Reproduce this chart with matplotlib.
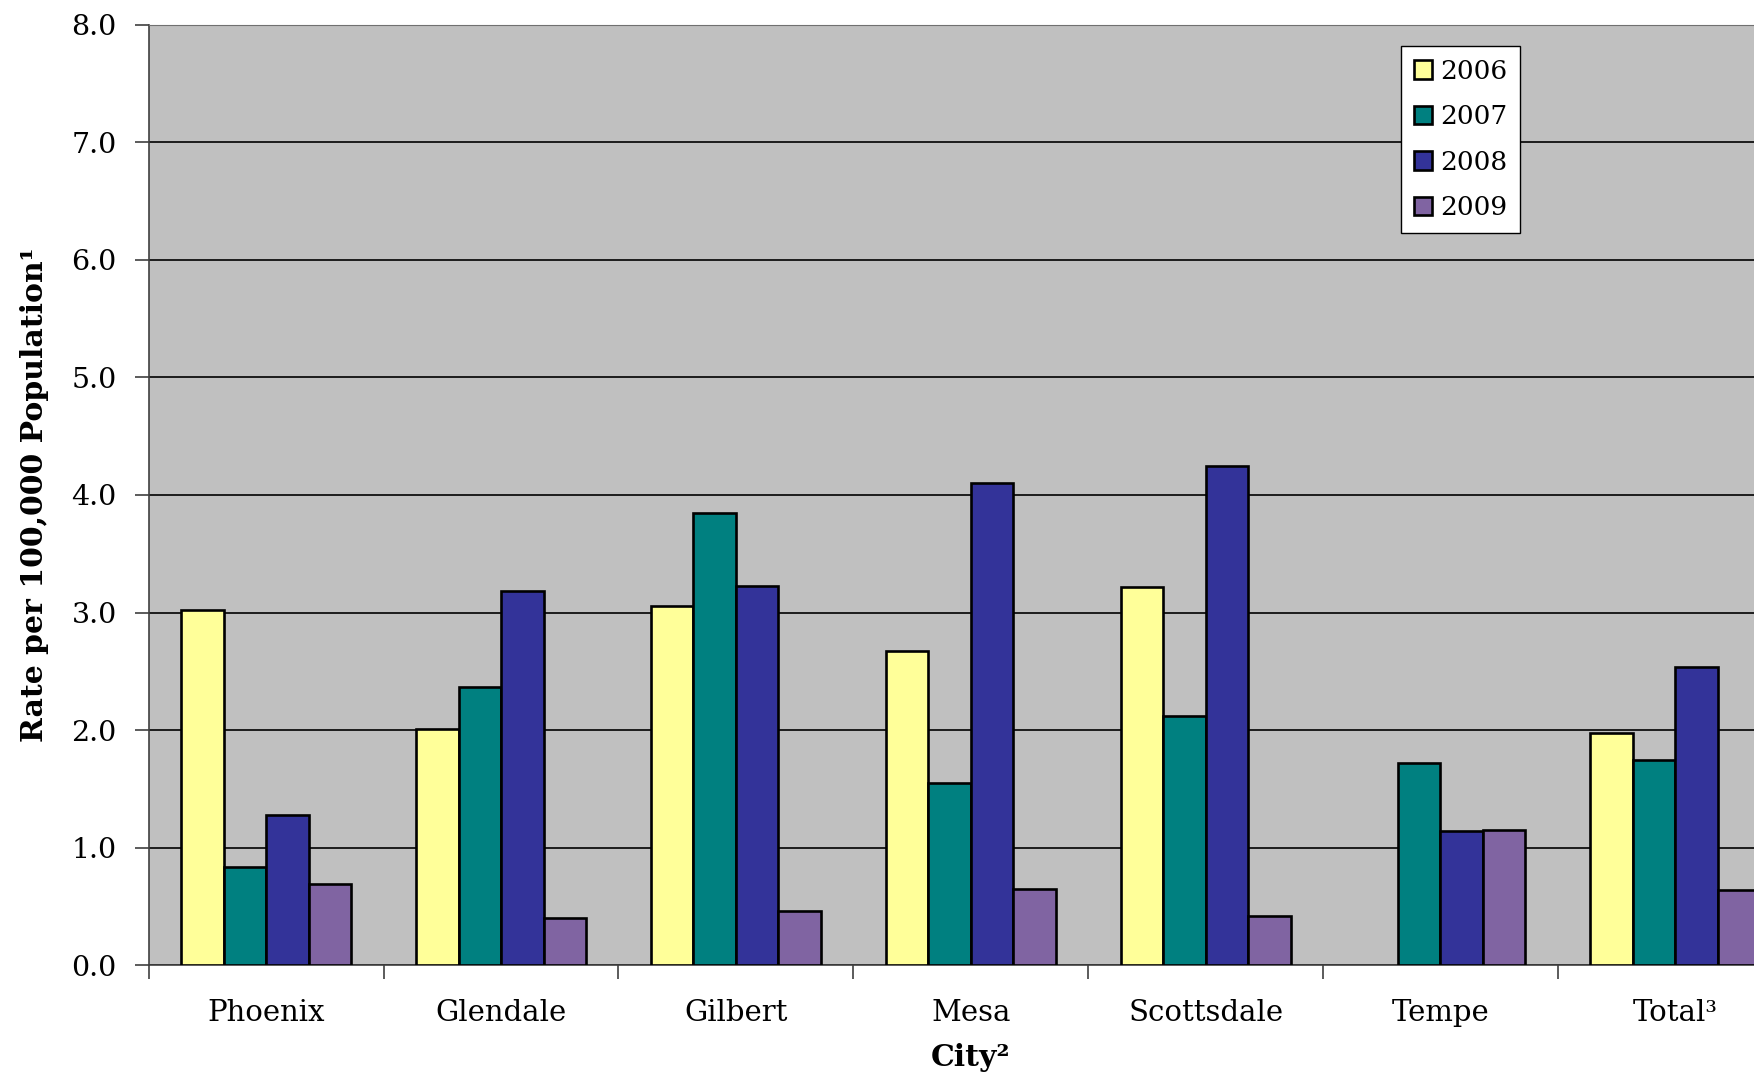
import numpy as np
import matplotlib.pyplot as plt

cities = ['Phoenix', 'Glendale', 'Gilbert', 'Mesa', 'Scottsdale', 'Tempe', 'Total³']
years = ['2006', '2007', '2008', '2009']
rate_2006 = [3.02, 2.01, 3.06, 2.67, 3.22, 0.0, 1.98]
rate_2007 = [0.84, 2.37, 3.85, 1.55, 2.12, 1.72, 1.75]
rate_2008 = [1.28, 3.18, 3.23, 4.10, 4.25, 1.14, 2.54]
rate_2009 = [0.69, 0.40, 0.46, 0.65, 0.42, 1.15, 0.64]
colors = ['#FFFF99', '#008080', '#333399', '#8064A2']

plt.rcParams['font.family'] = ['DejaVu Serif']

fig = plt.figure(figsize=(17.54, 10.78), dpi=100)
ax = fig.add_axes([0.0848, 0.1045, 0.9373, 0.8727])
ax.set_facecolor('#C0C0C0')

x = np.arange(len(cities))
w = 0.181
series = [rate_2006, rate_2007, rate_2008, rate_2009]
for k, (vals, c, lab) in enumerate(zip(series, colors, years)):
    vals = np.array(vals)
    keep = vals > 0  # no bar drawn for a missing value (Tempe 2006)
    ax.bar(x[keep] + (k - 1.5) * w, vals[keep], width=w, color=c, edgecolor='black',
           linewidth=1.9, label=lab, zorder=3)

ax.set_xlim(-0.5, 6.5)
ax.set_ylim(0, 8)
ax.set_yticks(np.arange(0, 8.1, 1.0))
ax.set_yticklabels([f'{v:.1f}' for v in np.arange(0, 8.1, 1.0)], fontsize=20.5)
ax.yaxis.grid(True, color='black', linewidth=1.2, zorder=1)
ax.set_axisbelow(True)

ax.set_xticks(x)
ax.set_xticklabels(cities, fontsize=21)
ax.tick_params(axis='x', length=0, pad=24)
ax.set_xticks(np.arange(-0.5, 7, 1.0), minor=True)
ax.tick_params(axis='x', which='minor', length=10, color='#404040', width=1.2)
ax.tick_params(axis='y', length=10, pad=13, width=1.2, color='#404040')

ax.spines['right'].set_visible(False)
ax.spines['top'].set_color('#707070')
ax.spines['left'].set_color('#404040')
ax.spines['left'].set_linewidth(1.2)
ax.spines['bottom'].set_color('#404040')
ax.spines['bottom'].set_linewidth(1.2)

ax.set_xlabel('City²', fontsize=21.5, fontweight='bold', labelpad=12)
ax.set_ylabel('Rate per 100,000 Population¹', fontsize=21.5, fontweight='bold', labelpad=16)

leg = ax.legend(loc='upper left', bbox_to_anchor=(0.7988, 0.9573),
                bbox_transform=fig.transFigure, borderaxespad=0,
                fontsize=19, fancybox=False, framealpha=1, edgecolor='black',
                handlelength=0.7, handleheight=0.7, handletextpad=0.3,
                labelspacing=0.78, borderpad=0.48)
leg.get_frame().set_linewidth(1.0)

fig.savefig('out.png', dpi=100)
